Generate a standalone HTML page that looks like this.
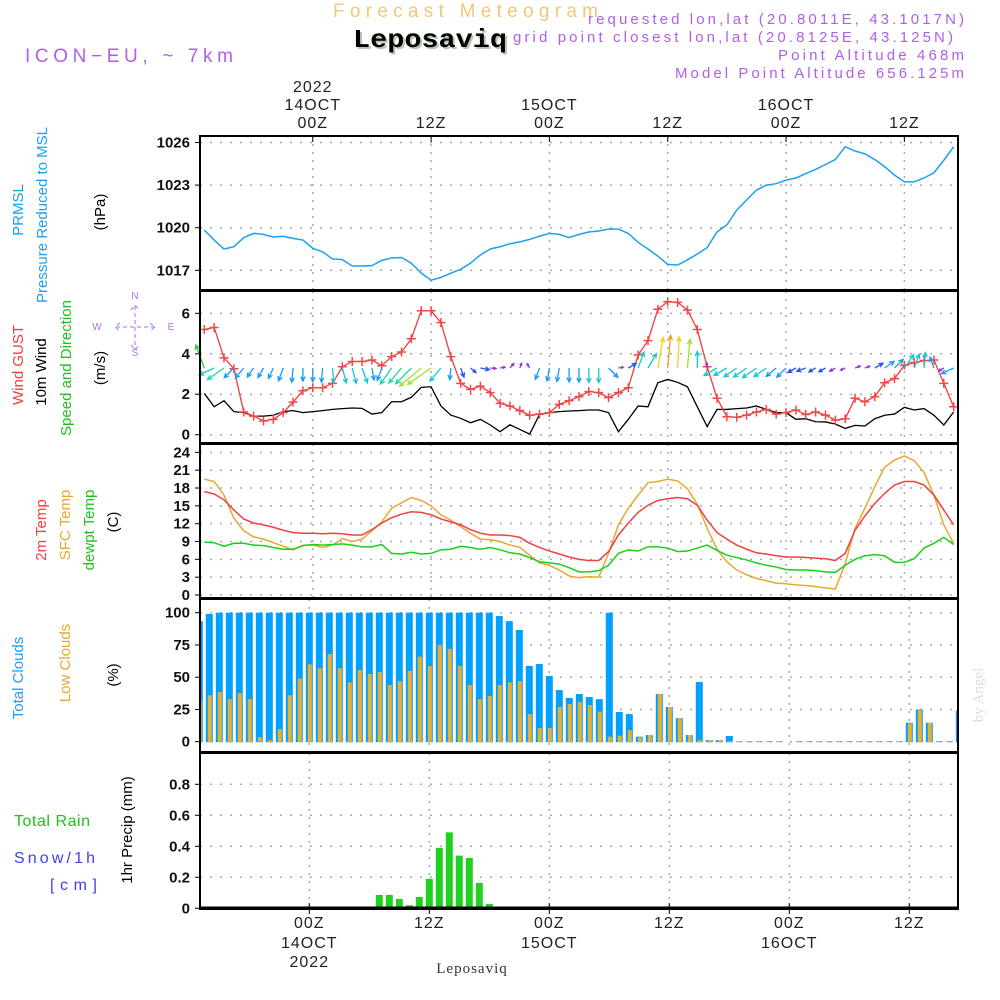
<!DOCTYPE html>
<html><head><meta charset="utf-8"><title>Meteogram Leposaviq</title>
<style>
html,body{margin:0;padding:0;background:#fff;}
svg{display:block;font-family:"Liberation Sans",sans-serif;}
</style></head>
<body>
<svg id="chart" width="1000" height="1000" viewBox="0 0 1000 1000" xmlns="http://www.w3.org/2000/svg">
<rect x="0" y="0" width="1000" height="1000" fill="#fff"/>
<text x="333" y="17" font-size="19" fill="#f3c77a" textLength="265" lengthAdjust="spacing">Forecast Meteogram</text>
<text x="355" y="49" font-size="26" font-weight="bold" font-family="Liberation Mono, monospace" fill="#b8c8b0" textLength="154" lengthAdjust="spacingAndGlyphs">Leposaviq</text>
<text x="353" y="47" font-size="26" font-weight="bold" font-family="Liberation Mono, monospace" fill="#000" textLength="154" lengthAdjust="spacingAndGlyphs">Leposaviq</text>
<text x="25" y="62" font-size="19" fill="#b060e8" textLength="208" lengthAdjust="spacing">ICON−EU, ~ 7km</text>
<g font-size="15" fill="#b060e8">
<text x="588" y="24" textLength="376" lengthAdjust="spacing">requested lon,lat (20.8011E, 43.1017N)</text>
<text x="513" y="42" textLength="440" lengthAdjust="spacing">grid point closest lon,lat (20.8125E, 43.125N)</text>
<text x="778" y="60" textLength="186" lengthAdjust="spacing">Point Altitude 468m</text>
<text x="675" y="78" textLength="289" lengthAdjust="spacing">Model Point Altitude 656.125m</text>
</g>
<g id="layers"></g>
</svg>
<script>
// ---- data (hourly, 13Z 13OCT .. 17Z 16OCT) ----
const hoursLabels = ["00Z","12Z","00Z","12Z","00Z","12Z"];
const dateLabels = ["14OCT","","15OCT","","16OCT",""];
const pressure = [1019.84,1019.13,1018.5,1018.66,1019.3,1019.6,1019.53,1019.34,1019.4,1019.25,1019.13,1018.55,1018.3,1017.8,1017.75,1017.3,1017.3,1017.33,1017.7,1017.87,1017.9,1017.5,1016.8,1016.3,1016.5,1016.8,1017.07,1017.5,1018.08,1018.5,1018.66,1018.87,1019.0,1019.18,1019.4,1019.6,1019.53,1019.3,1019.53,1019.7,1019.77,1019.9,1019.9,1019.6,1018.97,1018.5,1018.0,1017.42,1017.37,1017.73,1018.15,1018.6,1019.7,1020.2,1021.24,1021.95,1022.65,1023.0,1023.1,1023.35,1023.5,1023.8,1024.1,1024.45,1024.8,1025.7,1025.4,1025.2,1024.8,1024.3,1023.7,1023.23,1023.23,1023.5,1023.87,1024.75,1025.7];
const pressureTicks = [1017,1020,1023,1026];
const gust = [5.2,5.3,3.8,3.26,1.12,0.92,0.68,0.76,1.09,1.61,2.17,2.32,2.32,2.54,3.36,3.62,3.62,3.69,3.41,3.86,4.09,4.74,6.13,6.13,5.54,3.86,2.54,2.24,2.4,2.08,1.55,1.42,1.19,0.96,1.02,1.09,1.5,1.68,1.88,2.13,2.08,1.83,2.08,2.32,3.94,4.65,6.2,6.57,6.54,6.16,5.2,3.36,1.8,0.89,0.86,0.97,1.12,1.25,1.02,1.09,1.22,1.0,1.12,0.97,0.72,0.79,1.8,1.63,1.88,2.57,2.77,3.43,3.56,3.66,3.69,2.54,1.38];
const windSpeed = [2.04,1.38,1.68,1.14,1.09,0.92,0.92,0.96,1.14,1.19,1.09,1.14,1.19,1.25,1.29,1.32,1.3,1.02,1.09,1.63,1.63,1.85,2.34,2.37,1.42,0.97,0.81,0.59,0.76,0.48,0.15,0.49,0.26,0.03,1.0,1.09,1.14,1.17,1.19,1.22,1.22,1.09,0.15,0.76,1.42,1.38,2.57,2.73,2.59,2.37,1.38,0.4,1.25,1.25,1.29,1.32,1.42,1.25,1.09,1.09,0.76,0.79,0.64,0.63,0.53,0.31,0.46,0.43,0.79,0.96,1.02,1.35,1.22,1.29,0.96,0.48,1.12];
const windDir = [340,245,235,225,220,215,210,205,200,185,180,180,185,175,165,165,160,170,200,215,220,225,230,235,220,185,160,130,100,95,80,40,20,330,200,190,190,180,180,180,180,135,80,60,20,30,10,5,3,5,0,350,240,240,235,235,235,235,230,225,240,250,240,240,240,245,70,70,60,55,45,35,20,5,340,240,245];
const windTicks = [0,2,4,6];
const temp2m = [17.4,17.0,16.0,14.3,12.8,12.1,11.8,11.4,10.9,10.5,10.4,10.4,10.3,10.4,10.3,10.1,10.1,11.0,12.1,13.0,13.6,14.0,13.9,13.5,12.8,12.3,11.8,11.0,10.4,10.1,10.1,10.0,9.7,8.7,8.0,7.4,6.9,6.4,6.0,5.8,5.8,7.3,10.1,12.1,13.9,15.1,15.9,16.2,16.4,16.2,15.1,12.6,10.5,9.4,8.4,7.7,7.1,6.9,6.6,6.4,6.4,6.3,6.2,6.1,5.8,7.0,10.9,13.3,15.4,17.1,18.5,19.1,19.1,18.5,16.8,14.3,11.8];
const tempSfc = [19.5,19.1,16.8,12.9,10.8,9.8,9.4,8.8,8.2,7.6,8.4,8.4,8.0,8.4,9.5,9.0,9.4,10.8,12.3,14.6,15.5,16.4,15.9,15.0,13.5,12.6,11.5,10.4,9.4,9.3,9.0,8.4,8.0,6.7,5.4,5.0,4.2,3.2,2.9,3.1,3.0,7.0,11.8,14.6,16.8,18.9,19.1,19.5,19.2,17.9,15.3,11.2,7.7,5.6,4.2,3.4,2.8,2.4,2.0,1.9,1.7,1.6,1.4,1.2,1.0,5.3,11.2,14.6,18.2,21.5,22.7,23.4,22.6,20.6,16.8,11.8,8.7];
const dewpt = [8.9,8.8,8.2,8.7,8.7,8.4,8.3,8.0,7.7,7.7,8.3,8.5,8.4,8.5,8.6,8.4,8.1,8.1,8.5,7.0,6.9,7.2,6.9,7.0,7.6,7.7,8.2,8.0,7.7,8.0,7.6,7.1,6.9,6.3,5.6,5.4,5.2,4.6,3.9,3.9,4.1,5.0,7.0,7.6,7.4,8.1,8.1,7.9,7.3,7.4,7.9,8.4,7.5,6.7,6.3,5.9,5.4,5.0,4.7,4.3,4.2,4.2,4.1,3.9,3.8,5.0,6.0,6.6,6.8,6.6,5.5,5.5,6.1,7.9,8.7,9.7,8.5];
const tempTicks = [0,3,6,9,12,15,18,21,24];
const totalCloud = [93.5,99,100,100,100,100,100,100,100,100,100,100,100,100,100,100,100,100,100,100,100,100,100,100,100,100,100,100,100,100,97.4,93.5,86.6,58.7,60.2,50.9,40,33.9,37,34.6,33,100,23,21.4,3.9,5.2,37,26.9,18.3,5.2,46.3,1.3,1.3,4.4,0.4,0.4,0.4,0.4,0.4,0,0.4,0.4,0.4,0.4,0.4,0.4,0.4,0.4,0.4,0.4,0.4,14.7,25,14.7,0.5,0.5,24];
const lowCloud = [31.5,36,38.5,33,37.7,33,3.6,1.3,9.8,36,49,60,57,68,57,46,55.5,52.5,54,44,47,55,66,58.7,75,72,58.7,44,33,35.4,44,46,47,21.4,10.6,10.6,26.9,29.2,30.7,28.4,23.3,3.9,4.7,9,3.4,5.2,37,26.9,18.3,5.2,1.3,1.3,1.3,0.5,0.4,0.4,0.4,0.4,0.4,0,0.4,0.4,0.4,0.4,0.4,0.4,0.4,0.4,0.4,0.4,0.4,14.2,24.5,14.7,0.5,0.5,23.3];
const cloudTicks = [0,25,50,75,100];
const precip = [0,0,0,0,0,0,0,0,0,0,0,0,0,0,0.005,0.009,0.009,0.009,0.086,0.086,0.06,0.02,0.073,0.19,0.39,0.49,0.34,0.325,0.163,0.028,0,0,0,0,0,0,0,0,0,0,0,0,0,0,0,0,0,0,0,0,0,0,0,0,0,0,0,0,0,0,0,0,0,0,0,0,0,0,0,0,0,0,0,0,0,0,0];
const precipTicks = ["0","0.2","0.4","0.6","0.8"];
const majorIdx = [11,23,35,47,59,71];

// ---- axes ----
const NS="http://www.w3.org/2000/svg";
const L=200,R=958;
const xu=i=>204.3+9.86*i;
const xl=i=>199.3+10*i;
const yP=v=>270.3-(v-1017)*14.2;
const yW=v=>434.7-v*20.23;
const yT=v=>595-v*5.943;
const yC=v=>741.7-v*1.29;
const yR=v=>908.3-v*155;
const root=document.getElementById('layers');
function mk(tag,at,parent){const e=document.createElementNS(NS,tag);for(const k in at)e.setAttribute(k,at[k]);(parent||root).appendChild(e);return e;}
function txt(s,at,parent){const e=mk('text',at,parent);e.textContent=s;return e;}

const panels=[{n:'pressure',t:136,b:290},{n:'wind',t:291,b:443},{n:'temperature',t:444,b:598},{n:'clouds',t:599,b:752},{n:'precip',t:753,b:909}];

const grid=mk('g',{});


function hgrid(y){mk('line',{x1:L,x2:R,y1:y,y2:y,stroke:'#aaa','stroke-width':1.5,'stroke-dasharray':'2 8'},grid);}
function vgrid(x,t,b){mk('line',{x1:x,x2:x,y1:t,y2:b,stroke:'#aaa','stroke-width':1.5,'stroke-dasharray':'2 6'},grid);}
pressureTicks.forEach(v=>hgrid(yP(v)));
windTicks.forEach(v=>hgrid(yW(v)));
tempTicks.forEach(v=>hgrid(yT(v)));
cloudTicks.forEach(v=>hgrid(yC(v)));
precipTicks.forEach(v=>hgrid(yR(+v)));
majorIdx.forEach(i=>{for(let p=0;p<3;p++)vgrid(xu(i),panels[p].t,panels[p].b);for(let p=3;p<5;p++)vgrid(xl(i),panels[p].t,panels[p].b);});

const tl=mk('g',{'font-size':15,'font-weight':'bold',fill:'#111','text-anchor':'end'});


pressureTicks.forEach(v=>{txt(String(v),{x:190,y:yP(v)+5},tl);mk('line',{x1:L-5,x2:L,y1:yP(v),y2:yP(v),stroke:'#000'},tl);});
windTicks.forEach(v=>{txt(String(v),{x:190,y:yW(v)+5},tl);mk('line',{x1:L-5,x2:L,y1:yW(v),y2:yW(v),stroke:'#000'},tl);});
tempTicks.forEach(v=>{txt(String(v),{x:190,y:yT(v)+5},tl);mk('line',{x1:L-5,x2:L,y1:yT(v),y2:yT(v),stroke:'#000'},tl);});
cloudTicks.forEach(v=>{txt(String(v),{x:190,y:yC(v)+5},tl);mk('line',{x1:L-5,x2:L,y1:yC(v),y2:yC(v),stroke:'#000'},tl);});
precipTicks.forEach(v=>{txt(v,{x:190,y:yR(+v)+5},tl);mk('line',{x1:L-5,x2:L,y1:yR(+v),y2:yR(+v),stroke:'#000'},tl);});

const ta=mk('g',{'font-size':16,fill:'#222','text-anchor':'middle','letter-spacing':1});


majorIdx.forEach((i,k)=>{
  const x=xu(i);
  txt(hoursLabels[k],{x:x,y:128},ta);
  if(dateLabels[k])txt(dateLabels[k],{x:x,y:110},ta);
  mk('line',{x1:x,x2:x,y1:136,y2:142,stroke:'#000'},ta);
  const xb=xl(i);
  txt(hoursLabels[k],{x:xb,y:928},ta);
  if(dateLabels[k])txt(dateLabels[k],{x:xb,y:948},ta);
  mk('line',{x1:xb,x2:xb,y1:903,y2:914,stroke:'#000'},ta);
});
txt('2022',{x:xu(11),y:92},ta);
txt('2022',{x:xl(11),y:967},ta);
const bl=txt('Leposaviq',{x:472,y:973,'font-size':15,'font-family':'Liberation Serif, serif',fill:'#333','text-anchor':'middle','letter-spacing':1});



const pl=mk('polyline',{points:pressure.map((v,i)=>xu(i)+','+yP(v)).join(' '),fill:'none',stroke:'#1ea0f0','stroke-width':1.5});



const ws=mk('polyline',{points:windSpeed.map((v,i)=>xu(i)+','+yW(v)).join(' '),fill:'none',stroke:'#000','stroke-width':1.3});


const gl=mk('polyline',{points:gust.map((v,i)=>xu(i)+','+yW(v)).join(' '),fill:'none',stroke:'#f03c3c','stroke-width':1.3});


const gm=mk('g',{stroke:'#f04848','stroke-width':1.5});


gust.forEach((v,i)=>{const x=xu(i),y=yW(v);mk('path',{d:`M${x-4.5},${y}H${x+4.5}M${x},${y-4.5}V${y+4.5}`},gm);});
function wcol(s){if(s<0.55)return '#9a30e0';if(s<0.85)return '#2a50f0';if(s<1.2)return '#1a9cf0';if(s<1.6)return '#18c8d0';if(s<2.0)return '#20d8a0';if(s<2.2)return '#30d030';if(s<2.5)return '#a0e030';if(s<2.65)return '#f0d020';return '#e8a020';}
const wa=mk('g',{fill:'none','stroke-width':1.3});


windDir.forEach((d,i)=>{
  const s=windSpeed[i];const len=Math.max(5,12*s);
  const a=d*Math.PI/180;const x0=xu(i),y0=368;
  const x1=x0+len*Math.sin(a),y1=y0-len*Math.cos(a);
  const h=Math.min(5,len*0.5);
  const b1=a+Math.PI-0.45,b2=a+Math.PI+0.45;
  const p=mk('path',{d:`M${x0},${y0}L${x1},${y1}M${x1+h*Math.sin(b1)},${y1-h*Math.cos(b1)}L${x1},${y1}L${x1+h*Math.sin(b2)},${y1-h*Math.cos(b2)}`,stroke:wcol(s)},wa);
  
  
});

[[tempSfc,'#e8a830','sfc-temp-line'],[temp2m,'#f04040','temp-2m-line'],[dewpt,'#18d018','dewpoint-line']].forEach(([arr,c,n])=>{
  const p=mk('polyline',{points:arr.map((v,i)=>xu(i)+','+yT(v)).join(' '),fill:'none',stroke:c,'stroke-width':1.5});
  
  
});

const cc=mk('g',{});


function clipBar(x,w){let a=Math.max(L+1,x-w/2),b=Math.min(R-1,x+w/2);return [a,Math.max(0,b-a)];}
totalCloud.forEach((v,i)=>{if(v<=0)return;const [a,w]=clipBar(xl(i),7);if(w<=0)return;
  const r=mk('rect',{x:a,y:yC(v),width:w,height:yC(0)-yC(v)+0.5,fill:v<1?'#9ab':'#00a0ff'},cc);
  
  });
lowCloud.forEach((v,i)=>{if(v<=0)return;const [a,w]=clipBar(xl(i)+0.5,4);if(w<=0)return;
  const r=mk('rect',{x:a,y:yC(v),width:w,height:yC(0)-yC(v)+0.5,fill:v<1?'#9ab':'#e8b030'},cc);
  
  });

const pr=mk('g',{});


precip.forEach((v,i)=>{if(v<=0)return;const r=mk('rect',{x:xl(i)-3.5,y:yR(v),width:7,height:yR(0)-yR(v),fill:'#22d022'},pr);
  
  });

const fr=mk('g',{fill:'none',stroke:'#000','stroke-width':2});


panels.forEach(p=>{const r=mk('rect',{x:L,y:p.t,width:R-L,height:p.b-p.t},fr);
  
  });
mk('line',{x1:L,x2:R,y1:908,y2:908,'stroke-width':3},fr);

const lab=mk('g',{'font-size':15,'text-anchor':'middle'});


function rlab(s,x,y,c,n){const t=txt(s,{x:x,y:y,fill:c,transform:`rotate(-90 ${x} ${y})`},lab);
  
  }
rlab('PRMSL',23,210,'#1ea0f0','prmsl-label');
rlab('Pressure Reduced to MSL',47,215,'#1ea0f0','pressure-label');
rlab('(hPa)',105,212,'#000','hpa-unit');
rlab('Wind GUST',23,365,'#f04040','gust-label');
rlab('10m Wind',46,372,'#000','wind10m-label');
rlab('Speed and Direction',71,368,'#20c020','speed-direction-label');
rlab('(m/s)',105,368,'#000','ms-unit');
rlab('2m Temp',46,530,'#f04040','temp2m-label');
rlab('SFC Temp',70,525,'#e8a830','sfc-temp-label');
rlab('dewpt Temp',94,530,'#20c020','dewpt-label');
rlab('(C)',118,522,'#000','c-unit');
rlab('Total Clouds',23,678,'#1ea0f0','total-clouds-label');
rlab('Low Clouds',70,663,'#e8a830','low-clouds-label');
rlab('(%)',118,675,'#000','percent-unit');
rlab('1hr Precip (mm)',132,830,'#000','precip-unit-label');
const t1=txt('Total  Rain',{x:14,y:826,fill:'#20c020','text-anchor':'start','font-size':16,textLength:76,lengthAdjust:'spacing'},lab);


const t2=txt('Snow/1h',{x:14,y:863,fill:'#4040f0','text-anchor':'start','font-size':16,textLength:81,lengthAdjust:'spacing'},lab);


const t3=txt('[cm]',{x:50,y:890,fill:'#4040f0','text-anchor':'start','font-size':16,textLength:47,lengthAdjust:'spacing'},lab);


const wm=txt('by Angel',{x:983,y:695,fill:'#ddd','font-size':15,'font-family':'Liberation Serif, serif',transform:'rotate(-90 983 695)'},lab);



const cp=mk('g',{'font-size':10,fill:'#b070e8','text-anchor':'middle'});


txt('N',{x:135,y:299},cp);txt('S',{x:135,y:356},cp);txt('W',{x:97,y:330},cp);txt('E',{x:171,y:330},cp);
mk('path',{d:'M116,327H155M135,306V350M120,323L115,327L120,331M150,323L155,327L150,331M131,310L135,305L139,310M131,345L135,350L139,345',stroke:'#b070e8',fill:'none','stroke-dasharray':'4 3'},cp);
</script>
</body></html>
